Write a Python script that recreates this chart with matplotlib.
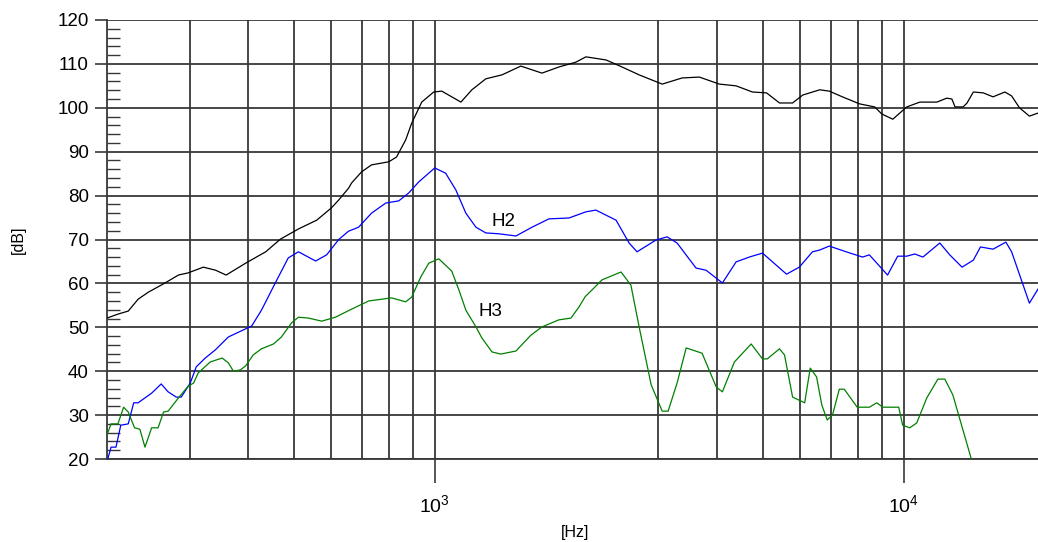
import matplotlib
matplotlib.use("Agg")
import matplotlib.pyplot as plt
from matplotlib.ticker import LogLocator, MultipleLocator, LogFormatterSciNotation, NullFormatter

plt.rcParams['font.family'] = ['Liberation Sans', 'DejaVu Sans']
plt.rcParams['mathtext.fontset'] = 'custom'
plt.rcParams['mathtext.rm'] = 'Liberation Sans'
plt.rcParams['mathtext.it'] = 'Liberation Sans'

# ---- data ----
main_f = [200, 211, 222, 233, 245, 266, 284, 298, 321, 341, 359, 395, 436, 469, 512, 560, 602, 624, 655,
          665, 698, 733, 798, 829, 867, 893, 938, 995, 1035, 1087, 1137, 1200, 1285, 1391, 1526, 1693,
          1840, 2000, 2100, 2133, 2319, 2508, 2728, 3055, 3370, 3666, 4046, 4392, 4757, 5100, 5435, 5796,
          6090, 6620, 6940, 7400, 8050, 8670, 8980, 9480, 9810, 10150, 10830, 11770, 12360, 12670, 12870,
          13390, 13650, 14080, 14780, 15510, 16440, 16990, 17660, 18540, 19340]
main_db = [52.1, 53.0, 53.7, 56.4, 58.0, 60.1, 61.9, 62.4, 63.7, 63.0, 61.9, 64.6, 67.2, 70.1, 72.4, 74.4,
           77.2, 79.0, 81.7, 82.9, 85.4, 87.0, 87.7, 88.8, 92.7, 96.5, 101.3, 103.6, 103.8, 102.5, 101.3,
           104.1, 106.6, 107.5, 109.5, 107.9, 109.3, 110.4, 111.6, 111.5, 110.9, 109.3, 107.5, 105.4, 106.8,
           107.0, 105.4, 105.0, 103.6, 103.4, 101.1, 101.1, 102.9, 104.1, 103.8, 102.5, 100.9, 100.2, 98.6,
           97.4, 98.8, 100.2, 101.3, 101.3, 102.2, 102.0, 100.2, 100.2, 101.1, 103.6, 103.4, 102.5, 103.6,
           102.7, 100.0, 98.1, 98.8]

h2_f = [201, 204, 209, 214, 222, 228, 233, 249, 261, 270, 281, 288, 301, 310, 324, 340, 363, 387, 407,
        427, 457, 487, 512, 557, 588, 624, 655, 688, 733, 786, 838, 880, 924, 1000, 1055, 1109, 1165,
        1224, 1285, 1370, 1490, 1612, 1752, 1933, 2100, 2206, 2436, 2597, 2700, 2966, 3130, 3287, 3607,
        3790, 4106, 4392, 4685, 5000, 5626, 5990, 6390, 6620, 6940, 7540, 8170, 8450, 9240, 9710, 10150,
        10560, 10990, 11940, 12540, 13320, 14080, 14580, 15510, 16520, 16990, 18540, 19340]
h2_db = [20.2, 22.7, 22.7, 27.7, 28.0, 32.8, 32.8, 35.0, 37.1, 35.3, 34.1, 34.1, 37.3, 41.0, 43.0, 44.8,
         47.8, 49.2, 50.3, 53.9, 60.1, 65.8, 67.2, 65.1, 66.5, 70.0, 71.9, 72.8, 76.0, 78.3, 78.8, 80.6,
         83.1, 86.3, 85.1, 81.3, 76.0, 72.8, 71.5, 71.3, 70.8, 72.8, 74.7, 74.9, 76.3, 76.7, 74.4, 69.2,
         67.2, 69.9, 70.6, 69.2, 63.5, 63.0, 60.1, 64.9, 66.0, 66.9, 62.1, 63.7, 67.2, 67.6, 68.5, 67.2,
         66.0, 66.5, 61.9, 66.2, 66.2, 66.7, 66.0, 69.2, 66.5, 63.7, 65.3, 68.3, 67.8, 69.4, 67.2, 55.5,
         58.7]

h3_f = [200, 204, 211, 217, 222, 229, 235, 241, 249, 257, 264, 270, 284, 298, 306, 313, 332, 352, 363,
        372, 385, 395, 410, 427, 453, 471, 495, 512, 538, 574, 614, 655, 723, 809, 867, 893, 934, 971,
        1020, 1087, 1126, 1165, 1224, 1260, 1324, 1383, 1490, 1603, 1693, 1840, 1952, 2032, 2094, 2164,
        2273, 2496, 2620, 2728, 2894, 3055, 3145, 3287, 3437, 3716, 3984, 4106, 4355, 4729, 5000, 5118,
        5435, 5570, 5796, 6150, 6320, 6520, 6690, 6870, 7050, 7290, 7470, 7960, 8450, 8760, 9030, 9760,
        9950, 10300, 10660, 11200, 11830, 12240, 12730, 13940]
h3_db = [25.5, 28.0, 28.0, 31.8, 30.7, 27.1, 26.8, 22.7, 27.1, 27.1, 30.7, 30.9, 33.9, 36.6, 37.3, 39.6,
         42.1, 43.0, 41.9, 40.0, 40.3, 41.2, 43.7, 45.1, 46.2, 47.8, 51.0, 52.3, 52.1, 51.4, 52.3, 53.8,
         56.0, 56.7, 55.8, 56.9, 61.5, 64.6, 65.6, 62.8, 58.5, 53.9, 50.1, 47.6, 44.4, 43.9, 44.6, 48.2,
         50.1, 51.7, 52.1, 54.7, 57.0, 58.5, 60.8, 62.6, 59.6, 50.1, 36.9, 30.9, 30.9, 37.3, 45.3, 44.1,
         36.4, 35.3, 42.1, 46.2, 42.8, 42.8, 45.1, 43.7, 34.1, 32.8, 40.7, 38.7, 32.3, 28.9, 30.0, 35.9,
         35.9, 31.8, 31.8, 32.8, 31.8, 31.8, 27.7, 27.1, 28.2, 33.9, 38.2, 38.2, 34.6, 20.0]

y_ticks = [20, 30, 40, 50, 60, 70, 80, 90, 100, 110, 120]
labels = ["H2", "H3"]
label_pos_f = [1404, 1317]
label_pos_db = [74.0, 53.5]

# ---- figure ----
W, H = 1038, 542
fig = plt.figure(figsize=(W / 100, H / 100), dpi=100)
L, R, T, B = 107, 1038, 20, 459
ax = fig.add_axes([L / W, 1 - B / H, (R - L) / W, (B - T) / H])

grid_c = '#383838'
ax.plot(main_f, main_db, color='#000000', lw=0.9, zorder=3)
ax.plot(h2_f, h2_db, color='#0000ff', lw=0.9, zorder=3)
ax.plot(h3_f, h3_db, color='#008000', lw=0.9, zorder=3)

ax.set_xscale('log')
ax.set_xlim(200, 19340)
ax.set_ylim(20, 120)
ax.set_yticks(y_ticks)
ax.yaxis.set_minor_locator(MultipleLocator(2))
ax.xaxis.set_major_locator(LogLocator(base=10, numticks=10))
ax.xaxis.set_minor_locator(LogLocator(base=10, subs=range(3, 10), numticks=20))
ax.xaxis.set_major_formatter(LogFormatterSciNotation())
ax.xaxis.set_minor_formatter(NullFormatter())

ax.xaxis.grid(True, which='both', color=grid_c, lw=1.3)
ax.yaxis.grid(True, which='major', color=grid_c, lw=1.3)
ax.set_axisbelow(True)

ax.tick_params(axis='y', which='major', direction='out', length=9, width=1.2, color=grid_c,
               labelsize=13.5, pad=4)
ax.tick_params(axis='y', which='minor', direction='in', length=9, width=1.0, color=grid_c)
ax.tick_params(axis='x', which='major', direction='out', length=17, width=1.2, color=grid_c,
               labelsize=14, pad=8)
ax.tick_params(axis='x', which='minor', length=0)

for s in ['top', 'right']:
    ax.spines[s].set_visible(False)
ax.spines['left'].set_color(grid_c)
ax.spines['left'].set_linewidth(1.3)
ax.spines['bottom'].set_color(grid_c)
ax.spines['bottom'].set_linewidth(1.3)

for t, f, d in zip(labels, label_pos_f, label_pos_db):
    ax.text(f, d, t, fontsize=13.5, ha='center', va='center', zorder=4)

fig.text(18 / W, 1 - 240 / H, '[dB]', rotation=90, ha='center', va='center', fontsize=11.5)
fig.text(575 / W, 1 - 533 / H, '[Hz]', ha='center', va='center', fontsize=11.5)

fig.savefig('out.png', dpi=100)
